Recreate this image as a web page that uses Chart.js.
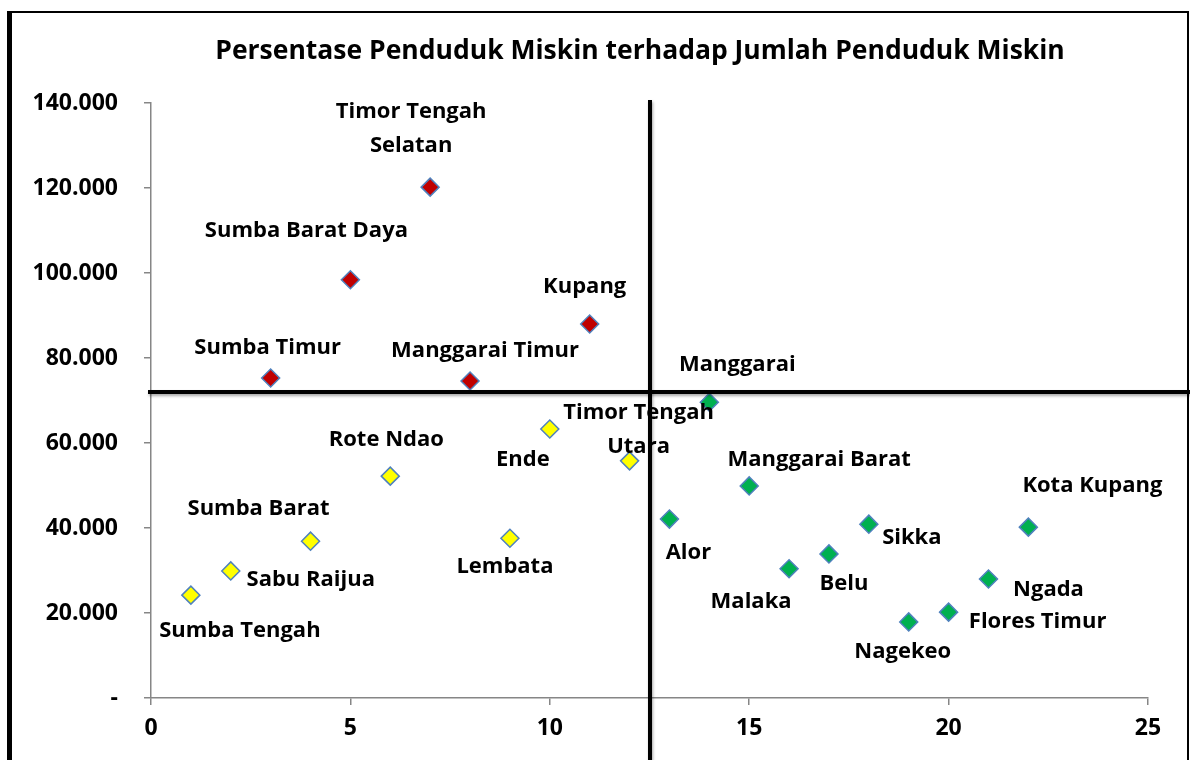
<!DOCTYPE html>
<html>
<head>
<meta charset="utf-8">
<script src="https://cdn.jsdelivr.net/npm/chart.js@4"></script>
<style>
  html, body { margin: 0; padding: 0; background: #fff; }
  #wrap { width: 1190px; height: 760px; }
</style>
</head>
<body>
<div id="wrap"><canvas id="myChart" width="1190" height="760"></canvas></div>
<script>
// kabupaten above the poverty cut-off (red)
const namesRed = ['Sumba Timur', 'Sumba Barat Daya', 'Timor Tengah Selatan', 'Manggarai Timur', 'Kupang'];
const xRed = [3, 5, 7, 8, 11];
const yRed = [75300, 98400, 120200, 74600, 88000];

// low rank, low count (yellow)
const namesYellow = ['Sumba Tengah', 'Sabu Raijua', 'Sumba Barat', 'Rote Ndao', 'Lembata', 'Ende', 'Timor Tengah Utara'];
const xYellow = [1, 2, 4, 6, 9, 10, 12];
const yYellow = [24200, 29900, 36900, 52200, 37600, 63300, 55800];

// high rank, low count (green)
const namesGreen = ['Alor', 'Manggarai', 'Manggarai Barat', 'Malaka', 'Belu', 'Sikka', 'Nagekeo', 'Flores Timur', 'Ngada', 'Kota Kupang'];
const xGreen = [13, 14, 15, 16, 17, 18, 19, 20, 21, 22];
const yGreen = [42100, 69600, 49900, 30400, 33900, 40900, 17900, 20200, 28000, 40200];

const xTicks = [0, 5, 10, 15, 20, 25];
const yTicks = [0, 20000, 40000, 60000, 80000, 100000, 120000, 140000];

// quadrant cut lines
const xCut = 12.5;
const yCut = 72000;

const chartTitle = 'Persentase Penduduk Miskin terhadap Jumlah Penduduk Miskin';

// label placement, offsets from the marker (px), text centred
const labelOffset = {
    'Timor Tengah Selatan': [-19, -58, 'Timor Tengah\nSelatan'],
    'Sumba Barat Daya': [-44, -49],
    'Kupang': [-5, -37],
    'Sumba Timur': [-3, -30],
    'Manggarai Timur': [15, -30],
    'Ende': [-27, 31],
    'Timor Tengah Utara': [9, -31, 'Timor Tengah\nUtara'],
    'Rote Ndao': [-4, -36],
    'Lembata': [-5, 29],
    'Sumba Barat': [-52, -32],
    'Sabu Raijua': [80, 9],
    'Sumba Tengah': [49, 36],
    'Manggarai': [28, -37],
    'Manggarai Barat': [70, -26],
    'Alor': [19, 34],
    'Kota Kupang': [64, -41],
    'Sikka': [43, 14],
    'Belu': [15, 30],
    'Malaka': [-38, 33],
    'Ngada': [60, 11],
    'Flores Timur': [89, 10],
    'Nagekeo': [-6, 30]
};

const FONT = '"Open Sans", Lato, sans-serif';

const toPoints = (xs, ys) => xs.map((x, i) => ({ x: x, y: ys[i] }));

const fmtThousands = (v) => {
    if (v === 0) return '-';
    return v.toString().replace(/\B(?=(\d{3})+(?!\d))/g, '.');
};

const makeSet = (names, xs, ys, fill) => ({
    label: names.join(','),
    names: names,
    data: toPoints(xs, ys),
    pointStyle: 'rectRot',
    pointRadius: 9,
    pointBackgroundColor: fill,
    pointBorderColor: '#4f81bd',
    pointBorderWidth: 1.5,
    showLine: false
});

// frame around the chart + title (title is centred on the frame, not the plot)
const framePlugin = {
    id: 'frame',
    beforeDraw(chart) {
        const ctx = chart.ctx;
        ctx.save();
        ctx.fillStyle = '#fff';
        ctx.fillRect(0, 0, chart.width, chart.height);
        ctx.strokeStyle = '#000';
        ctx.lineWidth = 2;
        ctx.beginPath();
        ctx.moveTo(10, chart.height + 5);
        ctx.lineTo(10, 12);
        ctx.lineTo(1188, 12);
        ctx.lineTo(1188, chart.height + 5);
        ctx.stroke();
        ctx.lineWidth = 5;
        ctx.beginPath();
        ctx.moveTo(9.5, 11);
        ctx.lineTo(9.5, chart.height + 5);
        ctx.stroke();

        ctx.font = 'bold 26.5px ' + FONT;
        ctx.fillStyle = '#000';
        ctx.textAlign = 'center';
        ctx.textBaseline = 'middle';
        ctx.fillText(chartTitle, 640, 51);
        ctx.restore();
    }
};

// names beside every marker
const labelPlugin = {
    id: 'pointLabels',
    afterDatasetsDraw(chart) {
        const ctx = chart.ctx;
        ctx.save();
        ctx.font = 'bold 22px ' + FONT;
        ctx.fillStyle = '#000';
        ctx.textAlign = 'center';
        ctx.textBaseline = 'middle';
        chart.data.datasets.forEach((ds, di) => {
            const meta = chart.getDatasetMeta(di);
            meta.data.forEach((pt, i) => {
                const name = ds.names[i];
                const off = labelOffset[name] || [0, -25];
                const text = (off[2] || name).split('\n');
                const lh = 34;
                const y0 = pt.y + off[1] - (text.length - 1) * lh / 2;
                text.forEach((line, k) => {
                    ctx.fillText(line, pt.x + off[0], y0 + k * lh);
                });
            });
        });
        ctx.restore();
    }
};

// the two thick quadrant lines
const quadrantPlugin = {
    id: 'quadrant',
    afterDraw(chart) {
        const ctx = chart.ctx;
        const xs = chart.scales.x;
        const ys = chart.scales.y;
        const area = chart.chartArea;
        const px = Math.round(xs.getPixelForValue(xCut));
        const py = Math.round(ys.getPixelForValue(yCut));
        ctx.save();
        ctx.strokeStyle = '#000';
        ctx.lineWidth = 4;
        ctx.shadowColor = 'rgba(0,0,0,0.35)';
        ctx.shadowBlur = 3;
        ctx.shadowOffsetX = 1;
        ctx.shadowOffsetY = 2;
        ctx.beginPath();
        ctx.moveTo(area.left - 3, py);
        ctx.lineTo(chart.width, py);
        ctx.stroke();
        ctx.beginPath();
        ctx.moveTo(px, area.top - 3);
        ctx.lineTo(px, chart.height);
        ctx.stroke();
        ctx.restore();
    }
};

const ctx = document.getElementById('myChart');
new Chart(ctx, {
    type: 'scatter',
    data: {
        datasets: [
            makeSet(namesRed, xRed, yRed, '#c00000'),
            makeSet(namesYellow, xYellow, yYellow, '#ffff00'),
            makeSet(namesGreen, xGreen, yGreen, '#00b050')
        ]
    },
    options: {
        responsive: false,
        animation: false,
        devicePixelRatio: 1,
        layout: { padding: { left: 0, right: 42, top: 103, bottom: 0 } },
        plugins: {
            legend: { display: false },
            tooltip: { enabled: false },
            title: { display: false }
        },
        scales: {
            x: {
                type: 'linear',
                min: 0,
                max: 25,
                afterBuildTicks: (scale) => { scale.ticks = xTicks.map(v => ({ value: v })); },
                afterFit: (scale) => { scale.height = 62; },
                border: { display: true, color: '#868686', width: 1.5 },
                grid: { drawOnChartArea: false, drawTicks: true, tickLength: 7, color: '#868686', lineWidth: 1.5 },
                ticks: {
                    color: '#000',
                    padding: 10,
                    maxRotation: 0,
                    font: { family: FONT, size: 23, weight: 'bold' }
                }
            },
            y: {
                type: 'linear',
                min: 0,
                max: 140000,
                afterBuildTicks: (scale) => { scale.ticks = yTicks.map(v => ({ value: v })); },
                afterFit: (scale) => { scale.width = 151; },
                border: { display: true, color: '#868686', width: 1.5 },
                grid: { drawOnChartArea: false, drawTicks: true, tickLength: 7, color: '#868686', lineWidth: 1.5 },
                ticks: {
                    color: '#000',
                    padding: 26,
                    font: { family: FONT, size: 23, weight: 'bold' },
                    callback: (v) => fmtThousands(v)
                }
            }
        }
    },
    plugins: [framePlugin, labelPlugin, quadrantPlugin]
});
</script>
</body>
</html>
